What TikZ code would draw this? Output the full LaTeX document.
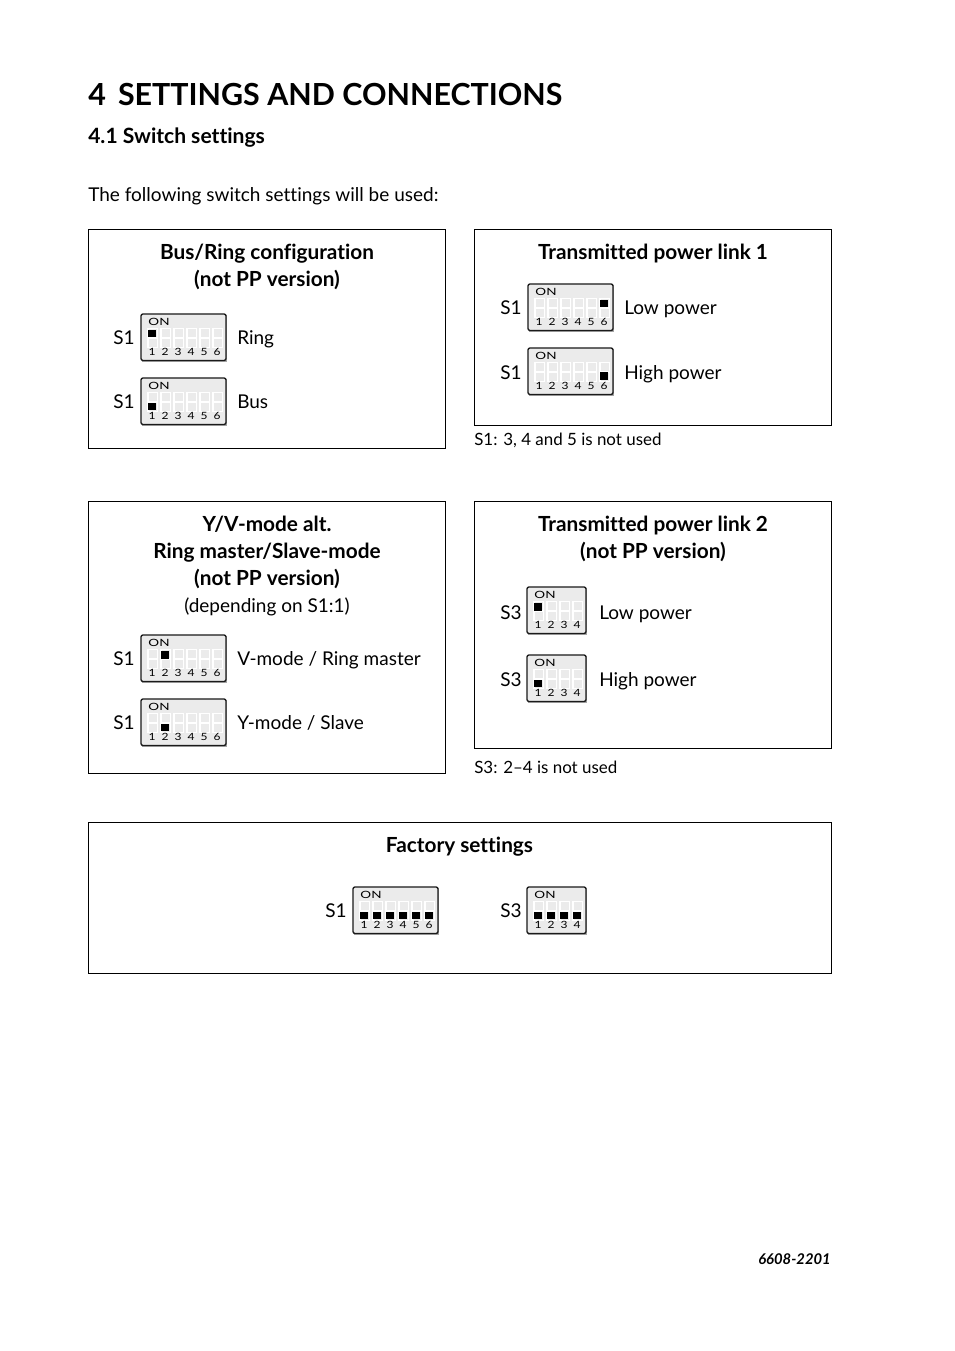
\documentclass[tikz,border=0pt]{standalone}
\usepackage{fontspec}
\setmainfont[Ligatures=NoCommon]{Lato}
\usepackage{tikz}
\definecolor{dipface}{HTML}{EBEBEB}
\definecolor{dipedge}{HTML}{1A1A1A}
\tikzset{
  txt/.style={anchor=base west,inner sep=0pt,font=\fontsize{14.25pt}{17pt}\selectfont},
  head/.style={anchor=north,inner sep=0pt,align=center,font=\fontsize{15.6pt}{20.25pt}\selectfont\bfseries},
  note/.style={anchor=base west,inner sep=0pt,font=\fontsize{12.7pt}{14pt}\selectfont},
  dipnum/.style={inner sep=0pt,font=\fontsize{7.5pt}{8pt}\selectfont},
  box/.style={draw=black,line width=0.5pt}
}
% left, top, number of switches, positions up, positions down
\newcommand{\dip}[5]{
  \pgfmathsetmacro{\dipw}{#3*13+7}
  \fill[black!35] (#1+1,#2+1) rectangle (#1+\dipw+1,#2+48);
  \draw[dipedge,fill=dipface,line width=1pt,rounded corners=1.5] (#1,#2) rectangle (#1+\dipw,#2+46.5);
  \node[dipnum,font=\fontsize{7.5pt}{8pt}\selectfont,xscale=1.35] (on#1x#2) at (#1+18,#2+8) {ON};
  \foreach \n in {1,...,#3} {
    \draw[white,line width=0.8pt] (#1+\n*13-6,#2+14.5) rectangle (#1+\n*13+3.5,#2+33.5);
    \draw[white,line width=0.8pt] (#1+\n*13-6,#2+24) -- (#1+\n*13+3.5,#2+24);
    \node[dipnum,xscale=1.2] (num#1x#2x\n) at (#1+\n*13-2,#2+37.5) {\n};
  }
  \foreach \n in {#4} { \fill[black] (#1+\n*13-6,#2+16) rectangle (#1+\n*13+2,#2+23.5); }
  \foreach \n in {#5} { \fill[black] (#1+\n*13-6,#2+24.5) rectangle (#1+\n*13+2,#2+32); }
}
\begin{document}
\begin{tikzpicture}[x=0.75pt,y=-0.75pt]
  \useasboundingbox (0,0) rectangle (954,1351);
  \fill[white] (0,0) rectangle (954,1351);
  % headings
  \node[anchor=base west,inner sep=0pt,font=\fontsize{22.8pt}{24pt}\selectfont\bfseries] (title) at (88,105.5) {4\hspace{0.4em}SETTINGS AND CONNECTIONS};
  \node[anchor=base west,inner sep=0pt,font=\fontsize{15.8pt}{17pt}\selectfont\bfseries] (sub) at (88,144) {4.1 Switch settings};
  \node[txt] (intro) at (88,201.5) {The following switch settings will be used:};
  % frames
  \draw[box] (88,229.5) rectangle (445.5,448.5);
  \draw[box] (474,229.5) rectangle (831.5,425.5);
  \draw[box] (88,501.5) rectangle (445.5,773.5);
  \draw[box] (474,501.5) rectangle (831.5,748.5);
  \draw[box] (88,822.5) rectangle (831,973.5);
  % bus/ring
  \node[head] (busring) at (267,244) {Bus/Ring configuration\\(not PP version)};
  \node[txt] (sa) at (113,345) {S1};
  \dip{141}{314}{6}{1}{}
  \node[txt] (ring) at (237,345) {Ring};
  \node[txt] (sb) at (113,408.5) {S1};
  \dip{141}{378}{6}{}{1}
  \node[txt] (bus) at (237,408.5) {Bus};
  % link 1
  \node[head] (linka) at (653,244) {Transmitted power link 1};
  \node[txt] (sc) at (500,315) {S1};
  \dip{528}{284}{6}{6}{}
  \node[txt] (lowa) at (624,315) {Low power};
  \node[txt] (sd) at (500,379) {S1};
  \dip{528}{348}{6}{}{6}
  \node[txt] (higha) at (624,379) {High power};
  \node[note] (notea) at (474,445) {S1: 3, 4 and 5 is not used};
  % y/v mode
  \node[head] (yv) at (267,516) {Y/V-mode alt.\\Ring master/Slave-mode\\(not PP version)\\[-0.5pt]\fontsize{14.25pt}{17pt}\selectfont\normalfont (depending on S1:1)};
  \node[txt] (se) at (113,665) {S1};
  \dip{141}{635}{6}{2}{}
  \node[txt] (vmode) at (237,665) {V-mode / Ring master};
  \node[txt] (sf) at (113,729) {S1};
  \dip{141}{699}{6}{}{2}
  \node[txt] (ymode) at (237,729) {Y-mode / Slave};
  % link 2
  \node[head] (linkb) at (653,516) {Transmitted power link 2\\(not PP version)};
  \node[txt] (sg) at (500,619) {S3};
  \dip{527}{587}{4}{1}{}
  \node[txt] (lowb) at (599,619) {Low power};
  \node[txt] (sh) at (500,686) {S3};
  \dip{527}{655}{4}{}{1}
  \node[txt] (highb) at (599,686) {High power};
  \node[note] (noteb) at (474,773) {S3: 2--4 is not used};
  % factory
  \node[head] (factory) at (459.5,837) {Factory settings};
  \node[txt] (si) at (325,917) {S1};
  \dip{353}{887}{6}{}{1,2,3,4,5,6}
  \node[txt] (sj) at (500,917) {S3};
  \dip{527}{887}{4}{}{1,2,3,4}
  % page code
  \node[anchor=base east,inner sep=0pt,font=\fontsize{11.1pt}{12pt}\selectfont\bfseries\itshape] (code) at (831,1264) {6608-2201};
\end{tikzpicture}
\end{document}
